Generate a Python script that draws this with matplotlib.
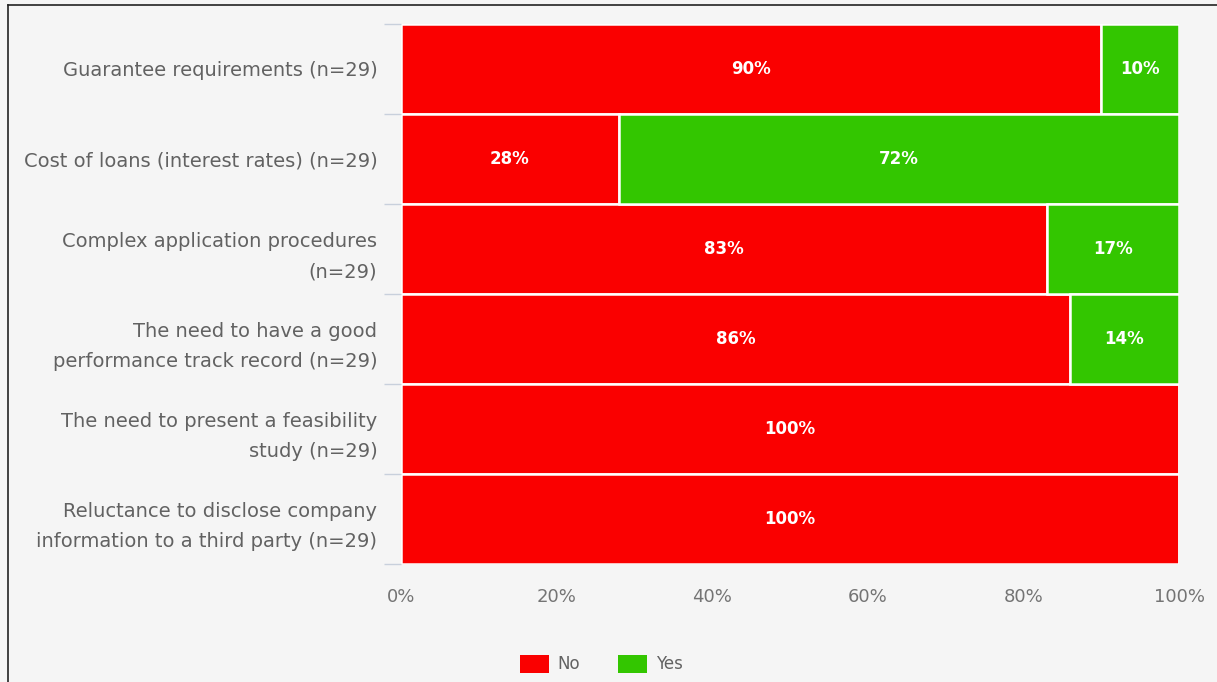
import matplotlib
matplotlib.use("Agg")
import matplotlib.pyplot as plt
from matplotlib.lines import Line2D
from matplotlib.patches import Patch

plt.rcParams['font.family'] = ['DejaVu Sans']

categories = [
    "Guarantee requirements (n=29)",
    "Cost of loans (interest rates) (n=29)",
    "Complex application procedures\n(n=29)",
    "The need to have a good\nperformance track record (n=29)",
    "The need to present a feasibility\nstudy (n=29)",
    "Reluctance to disclose company\ninformation to a third party (n=29)",
]
no_values = [90, 28, 83, 86, 100, 100]
yes_values = [10, 72, 17, 14, 0, 0]
series_names = ["No", "Yes"]
series_colors = ["#fa0000", "#33c600"]
x_ticks = [0, 20, 40, 60, 80, 100]

bg = "#f5f5f5"
fig = plt.figure(figsize=(12.17, 6.82), dpi=100, facecolor=bg)
ax = fig.add_axes([401 / 1217, 1 - 564 / 682, 778 / 1217, 540 / 682])
ax.set_facecolor(bg)

n = len(categories)
ypos = list(range(n))
ax.barh(ypos, no_values, height=1.0, color=series_colors[0],
        edgecolor="white", linewidth=1.8)
ax.barh(ypos, yes_values, left=no_values, height=1.0, color=series_colors[1],
        edgecolor="white", linewidth=1.8)

for y, nv, yv in zip(ypos, no_values, yes_values):
    if nv > 0:
        ax.text(nv / 2, y, f"{nv}%", ha="center", va="center", color="white",
                fontsize=12, fontweight="bold")
    if yv > 0:
        ax.text(nv + yv / 2, y, f"{yv}%", ha="center", va="center", color="white",
                fontsize=12, fontweight="bold")

ax.set_xlim(0, 100)
ax.set_ylim(n - 0.5, -0.5)
ax.set_yticks(ypos)
ax.set_yticklabels(categories, fontsize=14, color="#626262", linespacing=1.75)
ax.tick_params(axis="y", length=0, pad=17)
ax.set_yticks([i - 0.5 for i in range(n + 1)], minor=True)
ax.tick_params(axis="y", which="minor", length=12, color="#c8d0dc", width=1)
ax.set_xticks(x_ticks)
ax.set_xticklabels([f"{t}%" for t in x_ticks], fontsize=13, color="#747474")
ax.tick_params(axis="x", length=0, pad=17)
for s in ax.spines.values():
    s.set_visible(False)

handles = [Patch(facecolor=c, edgecolor="none") for c in series_colors]
fig.legend(handles, series_names, loc="center", bbox_to_anchor=(601 / 1217, 1 - 664 / 682),
           ncol=2, frameon=False, fontsize=12, handlelength=1.75, handleheight=1.3,
           handletextpad=0.5, columnspacing=2.3, labelcolor="#626262")

# outer frame lines on the left and top
fig.add_artist(Line2D([8 / 1217, 8 / 1217], [0, 1 - 5 / 682], transform=fig.transFigure,
                      color="#222222", linewidth=1.2))
fig.add_artist(Line2D([8 / 1217, 1], [1 - 5 / 682, 1 - 5 / 682], transform=fig.transFigure,
                      color="#222222", linewidth=1.2))

fig.savefig("out.png", dpi=100, facecolor=bg)
